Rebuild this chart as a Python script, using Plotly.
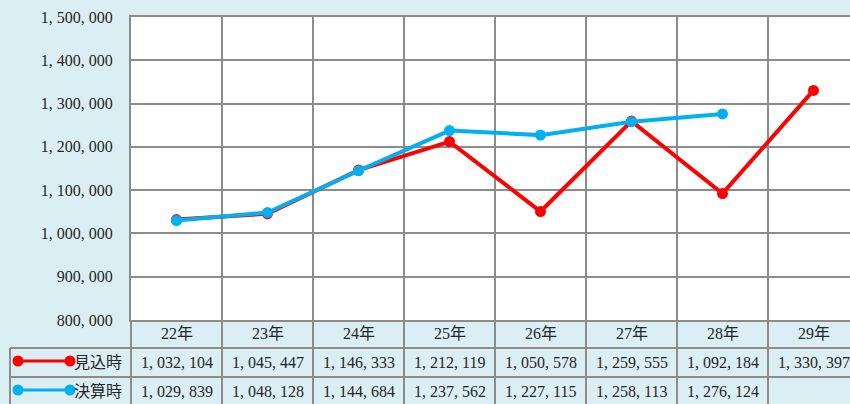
import plotly.graph_objects as go

categories = ["22年", "23年", "24年", "25年", "26年", "27年", "28年", "29年"]
mikomi = [1032104, 1045447, 1146333, 1212119, 1050578, 1259555, 1092184, 1330397]
kessan = [1029839, 1048128, 1144684, 1237562, 1227115, 1258113, 1276124, None]
series_names = ["見込時", "決算時"]
y_ticks = [800000, 900000, 1000000, 1100000, 1200000, 1300000, 1400000, 1500000]

RED = "#FF0000"
BLUE = "#00B0F0"
GRID = "#8C8C8C"
BG = "#DAEEF3"
TXT = "#262626"
FONT = "Liberation Serif, Noto Sans CJK JP, serif"
FS = 16

W, H = 850, 404
L, T, B = 131, 17, 84
plot_w = W - L
plot_h = H - T - B
col_w = 91
xmin = -0.5
xmax = xmin + plot_w / col_w


def fmt(v):
    return f"{v:,}".replace(",", ", ")


def px_x(px):
    return (px - L) / plot_w


def px_y(py):
    return (H - B - py) / plot_h


def colx(i):  # paper x of column boundary i
    return (i - 0.5 - xmin) / (xmax - xmin)


fig = go.Figure()
fig.add_trace(go.Scatter(x=categories, y=mikomi, name=series_names[0], mode="lines+markers",
                         line=dict(color=RED, width=4), marker=dict(size=11, color=RED)))
fig.add_trace(go.Scatter(x=categories, y=kessan, name=series_names[1], mode="lines+markers",
                         line=dict(color=BLUE, width=4), marker=dict(size=11, color=BLUE)))

shapes = []
line = dict(color=GRID, width=2)
# table vertical lines
for i in range(len(categories) + 1):
    shapes.append(dict(type="line", xref="paper", yref="paper", x0=colx(i), x1=colx(i),
                       y0=0, y1=px_y(410), line=line, layer="above"))
# legend box left line
shapes.append(dict(type="line", xref="paper", yref="paper", x0=px_x(10), x1=px_x(10),
                   y0=px_y(348), y1=px_y(410), line=line))
# horizontal lines
for py in [348, 377]:
    shapes.append(dict(type="line", xref="paper", yref="paper", x0=px_x(10), x1=px_x(W + 10),
                       y0=px_y(py), y1=px_y(py), line=line))

annotations = []
row_y = [px_y(362.5), px_y(391)]
for j, (name, vals, col) in enumerate([(series_names[0], mikomi, RED), (series_names[1], kessan, BLUE)]):
    yk = px_y(361 + 29 * j)
    shapes.append(dict(type="line", xref="paper", yref="paper", x0=px_x(18), x1=px_x(70),
                       y0=yk, y1=yk, line=dict(color=col, width=3)))
    for cx in [18, 70]:
        shapes.append(dict(type="circle", xref="paper", yref="paper", xsizemode="pixel",
                           ysizemode="pixel", xanchor=px_x(cx), yanchor=yk,
                           x0=-5.5, x1=5.5, y0=-5.5, y1=5.5,
                           fillcolor=col, line=dict(width=0)))
    annotations.append(dict(text=name, xref="paper", yref="paper", x=px_x(124), y=row_y[j],
                            xanchor="right", yanchor="middle", showarrow=False,
                            font=dict(size=FS, color=TXT, family=FONT)))
    for c, v in zip(categories, vals):
        if v is None:
            continue
        annotations.append(dict(text=fmt(v), xref="x", yref="paper", x=c, y=row_y[j],
                                xanchor="center", yanchor="middle", showarrow=False,
                                font=dict(size=FS, color=TXT, family=FONT)))
for c in categories:
    annotations.append(dict(text=c, xref="x", yref="paper", x=c, y=px_y(334),
                            xanchor="center", yanchor="middle", showarrow=False,
                            font=dict(size=FS, color=TXT, family=FONT)))

fig.update_layout(
    width=W, height=H,
    margin=dict(l=L, r=0, t=T, b=B, pad=0),
    paper_bgcolor=BG, plot_bgcolor="#FFFFFF",
    showlegend=False,
    shapes=shapes, annotations=annotations,
    font=dict(family=FONT, color=TXT, size=FS),
    xaxis=dict(type="category", categoryorder="array", categoryarray=categories,
               range=[xmin, xmax], tickson="boundaries", showgrid=True, gridcolor=GRID,
               gridwidth=2, showticklabels=False, ticks="", showline=True, mirror=True,
               linecolor=GRID, linewidth=2, zeroline=False, fixedrange=True),
    yaxis=dict(range=[800000, 1500000], tickvals=y_ticks, ticktext=[fmt(v) for v in y_ticks],
               showgrid=True, gridcolor=GRID, gridwidth=2, showline=True, linecolor=GRID,
               linewidth=2, ticks="", ticklabelstandoff=13, zeroline=False, fixedrange=True,
               tickfont=dict(size=FS, color=TXT, family=FONT)),
)

fig.write_html("out.html", config={"displayModeBar": False},
               post_script="document.body.style.margin='0';document.body.style.padding='0';"
                           "document.body.style.overflow='hidden';")
